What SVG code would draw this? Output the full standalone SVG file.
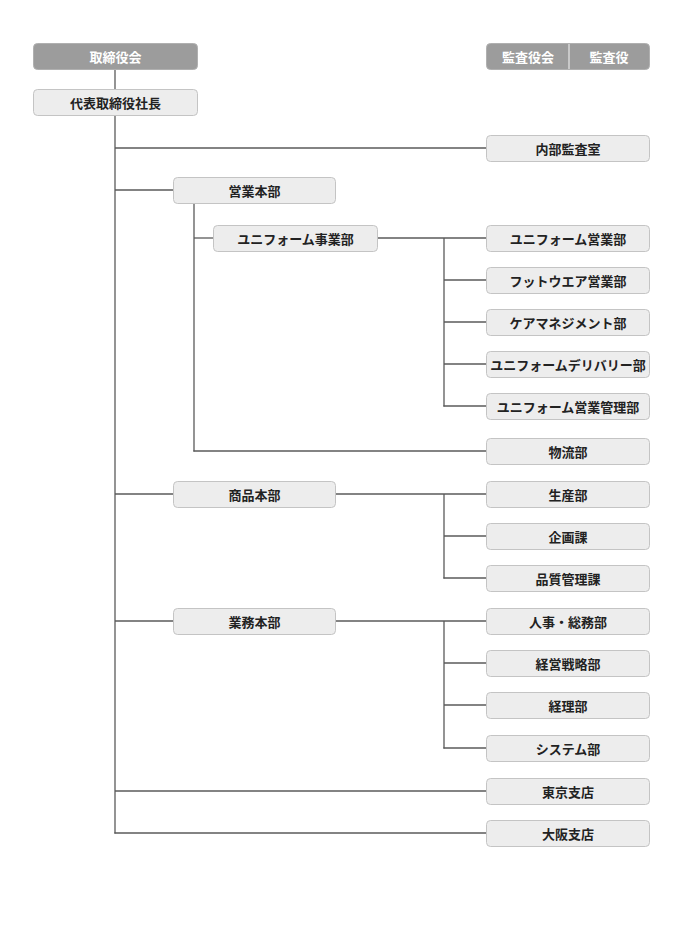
<svg xmlns="http://www.w3.org/2000/svg" width="697" height="937" viewBox="0 0 697 937">
<style>
.b{fill:#ededed;stroke:#c4c4c4;stroke-width:1}
.g{fill:#9c9c9c;stroke:#b0b0b0;stroke-width:1}
.t{font-family:"Noto Sans CJK JP","Noto Sans",sans-serif;font-size:13px;font-weight:bold;fill:#222;text-anchor:middle;dominant-baseline:central}
.w{fill:#fff}
.c line{stroke:#5a5a5a;stroke-width:1.3}
</style>
<rect width="697" height="937" fill="#fff"/>
<g class="c" id="connectors">
<line x1="115" y1="69" x2="115" y2="89"/>
<line x1="115" y1="115" x2="115" y2="833.6"/>
<line x1="115" y1="148" x2="486" y2="148"/>
<line x1="115" y1="190" x2="173" y2="190"/>
<line x1="115" y1="494" x2="173" y2="494"/>
<line x1="115" y1="621" x2="173" y2="621"/>
<line x1="115" y1="791" x2="486" y2="791"/>
<line x1="114.4" y1="833" x2="486" y2="833"/>
<line x1="194" y1="203" x2="194" y2="451.6"/>
<line x1="194" y1="238" x2="213" y2="238"/>
<line x1="193.4" y1="451" x2="486" y2="451"/>
<line x1="377" y1="238" x2="486" y2="238"/>
<line x1="444" y1="238" x2="444" y2="406.6"/>
<line x1="444" y1="280" x2="486" y2="280"/>
<line x1="444" y1="322" x2="486" y2="322"/>
<line x1="444" y1="364" x2="486" y2="364"/>
<line x1="443.4" y1="406" x2="486" y2="406"/>
<line x1="335" y1="494" x2="486" y2="494"/>
<line x1="444" y1="494" x2="444" y2="578.6"/>
<line x1="444" y1="536" x2="486" y2="536"/>
<line x1="443.4" y1="578" x2="486" y2="578"/>
<line x1="335" y1="621" x2="486" y2="621"/>
<line x1="444" y1="621" x2="444" y2="748.6"/>
<line x1="444" y1="663" x2="486" y2="663"/>
<line x1="444" y1="705" x2="486" y2="705"/>
<line x1="443.4" y1="748" x2="486" y2="748"/>
</g>
<g id="board"><rect class="g" x="33.5" y="43.5" width="164" height="26" rx="4"/><text class="t w" x="115.5" y="56.5">取締役会</text></g>
<g id="auditors"><rect class="g" x="486.5" y="43.5" width="163" height="26" rx="4"/><line x1="569" y1="44" x2="569" y2="69" stroke="#d8d8d8" stroke-width="1.5"/><text class="t w" x="528" y="56.5">監査役会</text><text class="t w" x="609" y="56.5">監査役</text></g>
<g id="president"><rect class="b" x="33.5" y="89.5" width="164" height="26" rx="4"/><text class="t" x="115.5" y="102.5">代表取締役社長</text></g>
<g id="audit-office"><rect class="b" x="486.5" y="135.5" width="163" height="26" rx="4"/><text class="t" x="568" y="148.5">内部監査室</text></g>
<g id="sales-hq"><rect class="b" x="173.5" y="177.5" width="162" height="26" rx="4"/><text class="t" x="254.5" y="190.5">営業本部</text></g>
<g id="uniform-div"><rect class="b" x="213.5" y="225.5" width="164" height="26" rx="4"/><text class="t" x="295.5" y="238.5">ユニフォーム事業部</text></g>
<g id="n1"><rect class="b" x="486.5" y="225.5" width="163" height="26" rx="4"/><text class="t" x="568" y="238.5">ユニフォーム営業部</text></g>
<g id="n2"><rect class="b" x="486.5" y="267.5" width="163" height="26" rx="4"/><text class="t" x="568" y="280.5">フットウエア営業部</text></g>
<g id="n3"><rect class="b" x="486.5" y="309.5" width="163" height="26" rx="4"/><text class="t" x="568" y="322.5">ケアマネジメント部</text></g>
<g id="n4"><rect class="b" x="486.5" y="351.5" width="163" height="26" rx="4"/><text class="t" x="568" y="364.5">ユニフォームデリバリー部</text></g>
<g id="n5"><rect class="b" x="486.5" y="393.5" width="163" height="26" rx="4"/><text class="t" x="568" y="406.5">ユニフォーム営業管理部</text></g>
<g id="n6"><rect class="b" x="486.5" y="438.5" width="163" height="26" rx="4"/><text class="t" x="568" y="451.5">物流部</text></g>
<g id="product-hq"><rect class="b" x="173.5" y="481.5" width="162" height="26" rx="4"/><text class="t" x="254.5" y="494.5">商品本部</text></g>
<g id="n7"><rect class="b" x="486.5" y="481.5" width="163" height="26" rx="4"/><text class="t" x="568" y="494.5">生産部</text></g>
<g id="n8"><rect class="b" x="486.5" y="523.5" width="163" height="26" rx="4"/><text class="t" x="568" y="536.5">企画課</text></g>
<g id="n9"><rect class="b" x="486.5" y="565.5" width="163" height="26" rx="4"/><text class="t" x="568" y="578.5">品質管理課</text></g>
<g id="ops-hq"><rect class="b" x="173.5" y="608.5" width="162" height="26" rx="4"/><text class="t" x="254.5" y="621.5">業務本部</text></g>
<g id="n10"><rect class="b" x="486.5" y="608.5" width="163" height="26" rx="4"/><text class="t" x="568" y="621.5">人事・総務部</text></g>
<g id="n11"><rect class="b" x="486.5" y="650.5" width="163" height="26" rx="4"/><text class="t" x="568" y="663.5">経営戦略部</text></g>
<g id="n12"><rect class="b" x="486.5" y="692.5" width="163" height="26" rx="4"/><text class="t" x="568" y="705.5">経理部</text></g>
<g id="n13"><rect class="b" x="486.5" y="735.5" width="163" height="26" rx="4"/><text class="t" x="568" y="748.5">システム部</text></g>
<g id="n14"><rect class="b" x="486.5" y="778.5" width="163" height="26" rx="4"/><text class="t" x="568" y="791.5">東京支店</text></g>
<g id="n15"><rect class="b" x="486.5" y="820.5" width="163" height="26" rx="4"/><text class="t" x="568" y="833.5">大阪支店</text></g>
</svg>
